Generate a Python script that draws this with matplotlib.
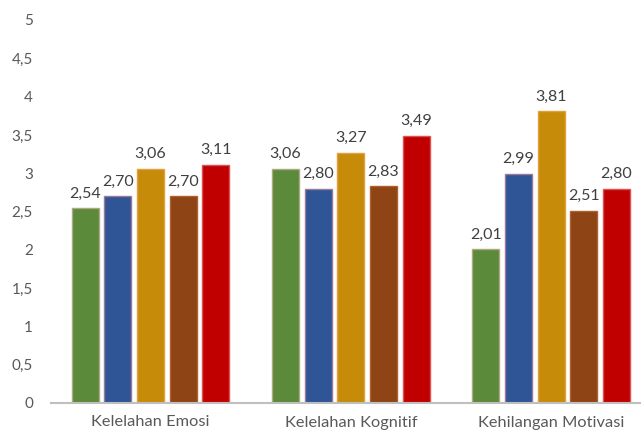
import matplotlib.pyplot as plt
import numpy as np

categories = ["Kelelahan Emosi", "Kelelahan Kognitif", "Kehilangan Motivasi"]
series = [
    [2.54, 3.06, 2.01],
    [2.70, 2.80, 2.99],
    [3.06, 3.27, 3.81],
    [2.70, 2.83, 2.51],
    [3.11, 3.49, 2.80],
]
colors = ["#5A8A3A", "#2F5597", "#C78B0A", "#8E4414", "#C00000"]
edges = ["#B0A880", "#9A7A9A", "#E0A040", "#B06030", "#E05050"]
yticks = np.arange(0, 5.01, 0.5)

plt.rcParams["font.family"] = ["Lato", "DejaVu Sans"]

fig = plt.figure(figsize=(6.41, 4.34), dpi=100)
ax = fig.add_axes([51 / 641, 31 / 434, 590 / 641, 383 / 434])

x = np.arange(len(categories))
pitch = 0.163
width = 0.135
for i, vals in enumerate(series):
    pos = x + (i - 2) * pitch
    bars = ax.bar(pos, vals, width, color=colors[i], edgecolor=edges[i], linewidth=1.0)
    for b, v in zip(bars, vals):
        ax.annotate(f"{v:.2f}".replace(".", ","), (b.get_x() + b.get_width() / 2, v),
                    xytext=(0, 5.5), textcoords="offset points", ha="center", va="bottom",
                    fontsize=11.5, color="#404040")

ax.set_xlim(-0.497, 2.449)
ax.set_ylim(0, 5)
ax.set_yticks(yticks)
ax.set_yticklabels([f"{t:g}".replace(".", ",") for t in yticks])
ax.set_xticks(x)
ax.set_xticklabels(categories)
ax.tick_params(axis="both", length=0, labelcolor="#595959")
ax.tick_params(axis="y", pad=13, labelsize=11)
ax.tick_params(axis="x", pad=9, labelsize=11.8)
for s in ["top", "right", "left"]:
    ax.spines[s].set_visible(False)
ax.spines["bottom"].set_color("#BFBFBF")
ax.spines["bottom"].set_linewidth(1.5)

fig.savefig("out.png", dpi=100)
